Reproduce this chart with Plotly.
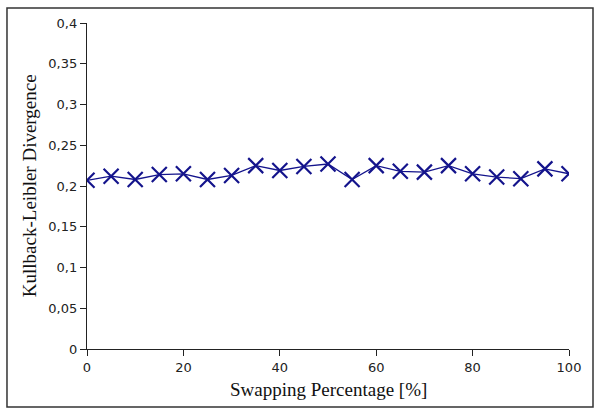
import plotly.graph_objects as go

swap_pct = [0, 5, 10, 15, 20, 25, 30, 35, 40, 45, 50, 55, 60, 65, 70, 75, 80, 85, 90, 95, 100]
kl_div = [0.207, 0.212, 0.208, 0.214, 0.215, 0.208, 0.213, 0.225, 0.219, 0.224, 0.227, 0.208,
          0.225, 0.218, 0.217, 0.225, 0.215, 0.211, 0.209, 0.221, 0.215]

NAVY = "#14148c"
TITLE_FONT = dict(family="Liberation Serif", size=19, color="#111")

fig = go.Figure(
    go.Scatter(
        x=swap_pct,
        y=kl_div,
        mode="lines+markers",
        line=dict(color=NAVY, width=1.3),
        marker=dict(symbol="x-thin", size=15, line=dict(width=2.2, color=NAVY), color=NAVY),
    )
)

fig.update_layout(
    width=600,
    height=414,
    margin=dict(l=87, r=31, t=23, b=65),
    paper_bgcolor="white",
    plot_bgcolor="white",
    showlegend=False,
    separators=",.",
    font=dict(family="DejaVu Sans", size=13, color="#222"),
)

axis_style = dict(
    showgrid=False,
    zeroline=False,
    showline=True,
    linecolor="#222",
    linewidth=1.3,
    ticks="outside",
    ticklen=6,
    tickcolor="#222",
    automargin=False,
)
fig.update_xaxes(range=[0, 100], tickvals=[0, 20, 40, 60, 80, 100], **axis_style)
fig.update_yaxes(range=[0, 0.4], dtick=0.05, **axis_style)

# axis titles placed as annotations for exact positioning
fig.add_annotation(
    text="Swapping Percentage [%]", xref="paper", yref="paper",
    x=0.5, y=-0.123, xanchor="center", yanchor="middle",
    showarrow=False, font=TITLE_FONT,
)
fig.add_annotation(
    text="Kullback-Leibler Divergence", xref="paper", yref="paper",
    x=-0.12, y=0.5, xanchor="center", yanchor="middle", textangle=-90,
    showarrow=False, font=TITLE_FONT,
)

# outer frame around the whole figure
fig.add_shape(
    type="rect", xref="paper", yref="paper",
    x0=-0.166, x1=1.0498, y0=-0.178, y1=1.046,
    line=dict(color="#333", width=1.5),
)

# drop the browser's default page margin so the figure sits at the window origin
fig.write_html(
    "out.html",
    config={"displayModeBar": False},
    post_script="document.body.style.margin='0';",
)
